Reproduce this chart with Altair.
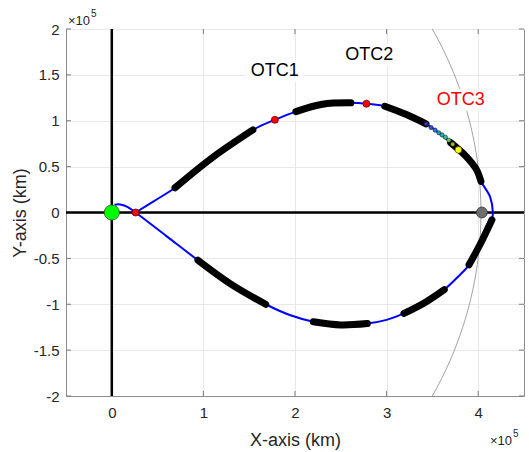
import altair as alt
import pandas as pd
import numpy as np

# ---------------- data (positions in units of 1e5 km) ----------------
traj_x = [0.03, 0.09, 0.17, 0.26, 0.60, 0.94, 1.30, 1.68, 1.95, 2.20,
          2.50, 2.79, 3.00, 3.19, 3.42, 3.63, 3.78, 3.90, 4.03, 4.15,
          4.16, 4.13, 4.03, 3.98, 3.87, 3.70, 3.57, 3.43, 3.21, 2.98,
          2.78, 2.61, 2.30, 2.01, 1.78, 1.54, 1.10, 0.69, 0.47, 0.26]
traj_y = [0.085, 0.088, 0.062, 0.0, -0.26, -0.52, -0.78, -1.00, -1.12, -1.19,
          -1.225, -1.21, -1.17, -1.10, -0.98, -0.84, -0.70, -0.57, -0.33, -0.08,
          0.0, 0.17, 0.34, 0.47, 0.61, 0.76, 0.87, 0.966, 1.07, 1.158,
          1.185, 1.195, 1.18, 1.10, 1.01, 0.90, 0.60, 0.27, 0.13, 0.0]
# index ranges of the trajectory drawn as thick black arcs
thick_ranges = [(5, 7), (9, 11), (13, 15), (17, 19), (22, 25), (27, 29), (31, 33), (35, 37)]

red_x = [0.26, 1.78, 2.78]
red_y = [0.0, 1.01, 1.185]

small_x = [3.432, 3.486, 3.530, 3.570, 3.606, 3.642, 3.679, 3.722]
small_y = [0.966, 0.926, 0.897, 0.868, 0.846, 0.820, 0.788, 0.744]
small_c = ["#3528c8", "#2a4ff0", "#1f74ee", "#1596d8", "#18b0bb", "#35c194", "#6cc766", "#9fbc33"]

yellow_x, yellow_y = [3.784], [0.683]
earth_x, earth_y = [0.0], [0.0]
moon_x, moon_y = [4.04], [0.0]
orbit_radius = 4.03

labels_text = ["OTC1", "OTC2", "OTC3"]
labels_x = [1.78, 2.81, 3.81]
labels_y = [1.545, 1.72, 1.23]
labels_col = ["black", "black", "red"]

x_ticks = [0, 1, 2, 3, 4]
y_ticks = [-2, -1.5, -1, -0.5, 0, 0.5, 1, 1.5, 2]

W, H = 458, 367

# ---------------- frames ----------------
traj = pd.DataFrame({"x": traj_x, "y": traj_y, "i": range(len(traj_x))})
thick_rows = []
for s, (a, b) in enumerate(thick_ranges):
    for k in range(a, b + 1):
        thick_rows.append({"x": traj_x[k], "y": traj_y[k], "i": k, "seg": s})
thick = pd.DataFrame(thick_rows)

ang = np.linspace(-np.arcsin(2.05 / orbit_radius), np.arcsin(2.05 / orbit_radius), 80)
orbit = pd.DataFrame({"x": orbit_radius * np.cos(ang), "y": orbit_radius * np.sin(ang), "i": range(len(ang))})

xsc = alt.Scale(domain=[-0.5, 4.5], nice=False, zero=False)
ysc = alt.Scale(domain=[-2, 2], nice=False, zero=False)
xax = alt.Axis(values=x_ticks, title="X-axis (km)", ticks=False, labelPadding=9,
               labelExpr="'' + datum.value", titleY=49, titleBaseline="alphabetic")
yax = alt.Axis(values=y_ticks, title="Y-axis (km)", ticks=False, labelPadding=7,
               labelExpr="'' + datum.value", titleX=-41, titleY=H / 2,
               titleBaseline="alphabetic", titleAngle=-90)


def X(f="x"):
    return alt.X(f"{f}:Q", scale=xsc, axis=xax)


def Y(f="y"):
    return alt.Y(f"{f}:Q", scale=ysc, axis=yax)


layers = []

# inner ticks (MATLAB style)
ytdf = pd.DataFrame({"y": y_ticks})
xtdf = pd.DataFrame({"x": x_ticks})
tk = dict(color="#7a7a7a", strokeWidth=1)
layers.append(alt.Chart(ytdf).mark_rule(**tk).encode(y=Y(), x=alt.value(0), x2=alt.value(5)))
layers.append(alt.Chart(ytdf).mark_rule(**tk).encode(y=Y(), x=alt.value(W - 5), x2=alt.value(W)))
layers.append(alt.Chart(xtdf).mark_rule(**tk).encode(x=X(), y=alt.value(H - 5), y2=alt.value(H)))
layers.append(alt.Chart(xtdf).mark_rule(**tk).encode(x=X(), y=alt.value(0), y2=alt.value(5)))

# moon orbit arc
layers.append(alt.Chart(orbit).mark_line(color="#8a8a8a", strokeWidth=0.8, clip=True).encode(
    x=X(), y=Y(), order="i:Q"))

# black coordinate axes
layers.append(alt.Chart(pd.DataFrame({"x": [0]})).mark_rule(color="black", strokeWidth=2.5).encode(x=X()))
layers.append(alt.Chart(pd.DataFrame({"y": [0]})).mark_rule(color="black", strokeWidth=2.5).encode(y=Y()))

# text backgrounds + labels
lab = pd.DataFrame({"t": labels_text, "x": labels_x, "y": labels_y, "c": labels_col})
layers.append(alt.Chart(lab).mark_rect(color="white", width=58, height=22).encode(x=X(), y=Y()))

# trajectory
layers.append(alt.Chart(traj).mark_line(color="#0000ff", strokeWidth=2, interpolate="catmull-rom").encode(
    x=X(), y=Y(), order="i:Q"))
layers.append(alt.Chart(thick).mark_line(color="black", strokeWidth=7, strokeCap="round",
                                         interpolate="catmull-rom").encode(
    x=X(), y=Y(), detail="seg:N", order="i:Q"))

# small colored dots
sd = pd.DataFrame({"x": small_x, "y": small_y, "c": small_c})
layers.append(alt.Chart(sd).mark_point(filled=True, size=18, stroke="#222222", strokeWidth=0.6, opacity=1).encode(
    x=X(), y=Y(), fill=alt.Fill("c:N", scale=None)))

# markers
layers.append(alt.Chart(pd.DataFrame({"x": yellow_x, "y": yellow_y})).mark_point(
    filled=True, size=45, fill="#ffff00", stroke="#333333", strokeWidth=0.6, opacity=1).encode(x=X(), y=Y()))
layers.append(alt.Chart(pd.DataFrame({"x": red_x, "y": red_y})).mark_point(
    filled=True, size=50, fill="#ff0000", stroke="#550000", strokeWidth=0.7, opacity=1).encode(x=X(), y=Y()))
layers.append(alt.Chart(pd.DataFrame({"x": earth_x, "y": earth_y})).mark_point(
    filled=True, size=230, fill="#00ff00", stroke="#225522", strokeWidth=0.8, opacity=1).encode(x=X(), y=Y()))
layers.append(alt.Chart(pd.DataFrame({"x": moon_x, "y": moon_y})).mark_point(
    filled=True, size=120, fill="#6e6e6e", stroke="#333333", strokeWidth=0.8, opacity=1).encode(x=X(), y=Y()))

layers.append(alt.Chart(lab).mark_text(fontSize=18, font="Liberation Sans", baseline="middle").encode(
    x=X(), y=Y(), text="t:N", color=alt.Color("c:N", scale=None)))

# exponent annotations
ex = dict(font="Liberation Sans", color="#262626", align="left", baseline="alphabetic")
layers.append(alt.Chart(pd.DataFrame({"a": [1]})).mark_text(text="×10", fontSize=13, **ex).encode(
    x=alt.value(2), y=alt.value(-4)))
layers.append(alt.Chart(pd.DataFrame({"a": [1]})).mark_text(text="5", fontSize=10, **ex).encode(
    x=alt.value(25), y=alt.value(-12)))
layers.append(alt.Chart(pd.DataFrame({"a": [1]})).mark_text(text="×10", fontSize=13, **ex).encode(
    x=alt.value(424), y=alt.value(416)))
layers.append(alt.Chart(pd.DataFrame({"a": [1]})).mark_text(text="5", fontSize=10, **ex).encode(
    x=alt.value(447), y=alt.value(408)))

chart = alt.layer(*layers).properties(
    width=W, height=H,
    autosize=alt.AutoSizeParams(type="none"),
    padding={"left": 66, "top": 29, "right": 5, "bottom": 56},
).configure(background="white", font="Liberation Sans").configure_view(
    stroke="#8c8c8c", strokeWidth=1
).configure_axis(
    grid=True, gridColor="#e8e8e8", gridWidth=1, domainColor="#8c8c8c", domainWidth=1,
    labelFont="Liberation Sans", labelFontSize=15, labelColor="#262626",
    titleFont="Liberation Sans", titleFontSize=18, titleColor="#262626", titleFontWeight="normal",
)

chart.save("out.html", embed_options={"renderer": "svg", "actions": False})
